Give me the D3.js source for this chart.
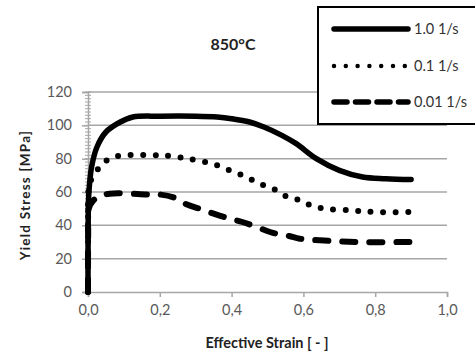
<!DOCTYPE html>
<html><head><meta charset="utf-8">
<script src="https://cdn.jsdelivr.net/npm/d3@7"></script>
<style>body{margin:0;background:#fff}svg{display:block;font-family:Lato,"Open Sans",sans-serif}</style>
</head><body><svg id="c" width="475" height="357"></svg>
<script>
const title = "850°C";
const xLabel = "Effective Strain [ - ]";
const yLabel = "Yield Stress [MPa]";
const xTicks = [0, 0.2, 0.4, 0.6, 0.8, 1.0];
const yTicks = [0, 20, 40, 60, 80, 100, 120];
const seriesNames = ["1.0 1/s", "0.1 1/s", "0.01 1/s"];
const strain10 = [0, 0.0005, 0.002, 0.01, 0.025, 0.05, 0.09, 0.125, 0.2, 0.3, 0.36, 0.40, 0.45, 0.49, 0.54, 0.58, 0.636, 0.70, 0.765, 0.83, 0.90];
const stress10 = [0, 40, 58, 75, 87, 96, 102, 105, 105.5, 105.5, 105, 104, 102, 99, 94, 89, 80, 73, 69, 68, 67.5];
const strain01 = [0, 0.0005, 0.002, 0.01, 0.033, 0.06, 0.1, 0.18, 0.21, 0.25, 0.28, 0.325, 0.36, 0.395, 0.43, 0.46, 0.49, 0.525, 0.556, 0.59, 0.62, 0.66, 0.73, 0.80, 0.90];
const stress01 = [0, 40, 62, 68, 75, 80, 82, 82, 82, 81, 80, 78, 76, 73, 70, 67, 64, 61, 57, 55, 52, 50, 49, 48, 48];
const strain001 = [0, 0.0005, 0.002, 0.015, 0.03, 0.06, 0.17, 0.2, 0.24, 0.27, 0.31, 0.35, 0.395, 0.43, 0.47, 0.515, 0.56, 0.59, 0.645, 0.75, 0.90];
const stress001 = [0, 35, 50, 55, 57, 59, 58.5, 58.5, 56.6, 53, 50, 47, 44, 42, 39, 35.5, 33.6, 32, 31, 30, 30];

const series = [
  {name: seriesNames[0], xs: strain10, ys: stress10, dash: null, w: 5.5},
  {name: seriesNames[1], xs: strain01, ys: stress01, dash: "0 12.5", w: 6},
  {name: seriesNames[2], xs: strain001, ys: stress001, dash: "13 14", w: 6}
];

const svg = d3.select("#c");
const x = d3.scaleLinear().domain([0, 1]).range([88, 447]);
const y = d3.scaleLinear().domain([0, 120]).range([292, 92]);
const gray = "#a6a6a6", txt = "#595959";

// gridlines
svg.append("g").selectAll("line").data(yTicks.filter(d => d > 0)).join("line")
  .attr("x1", x(0)).attr("x2", x(1)).attr("y1", d => y(d)).attr("y2", d => y(d))
  .attr("stroke", gray).attr("stroke-width", 1.5);

// x axis
const xa = svg.append("g").attr("transform", `translate(0,${y(0)})`)
  .call(d3.axisBottom(x).tickValues(xTicks).tickSize(5).tickPadding(8)
    .tickFormat(d => d3.format(".1f")(d).replace(".", ",")));
xa.select(".domain").attr("stroke", gray).attr("stroke-width", 1.5);
xa.selectAll(".tick line").attr("stroke", gray).attr("stroke-width", 1.5);
xa.selectAll("text").attr("fill", txt).attr("font-size", 14.5).attr("font-family", "Lato,sans-serif");

// y axis minor ticks
const minor = d3.range(0, 121, 2);
svg.append("g").selectAll("line").data(minor).join("line")
  .attr("x1", x(0) - 3).attr("x2", x(0) + 3).attr("y1", d => y(d)).attr("y2", d => y(d))
  .attr("stroke", gray).attr("stroke-width", 1);
const ya = svg.append("g").attr("transform", `translate(${x(0)},0)`)
  .call(d3.axisLeft(y).tickValues(yTicks).tickSize(6).tickPadding(10));
ya.select(".domain").attr("stroke", gray).attr("stroke-width", 1.5);
ya.selectAll(".tick line").attr("stroke", gray).attr("stroke-width", 1.5);
ya.selectAll("text").attr("fill", txt).attr("font-size", 14.5).attr("font-family", "Lato,sans-serif");

// curves
const line = d3.line().curve(d3.curveCatmullRom.alpha(0.5));
series.forEach(s => {
  const pts = s.xs.map((v, i) => [x(v), y(s.ys[i])]);
  const p = svg.append("path").attr("d", line(pts)).attr("fill", "none")
    .attr("stroke", "#000").attr("stroke-width", s.w)
    .attr("stroke-linecap", "round").attr("stroke-linejoin", "round");
  if (s.dash) p.attr("stroke-dasharray", s.dash);
});

// title
svg.append("text").attr("x", 233).attr("y", 50).attr("text-anchor", "middle")
  .attr("font-size", 16).attr("font-weight", "bold").attr("fill", "#222").text(title);

// axis labels
svg.append("text").attr("x", 267).attr("y", 348).attr("text-anchor", "middle")
  .attr("font-size", 14.5).attr("font-weight", "bold").attr("fill", "#222").text(xLabel);
svg.append("text").attr("transform", "translate(30,195) rotate(-90)").attr("text-anchor", "middle")
  .attr("font-size", 13.5).attr("letter-spacing", 1.2).attr("font-weight", "bold").attr("fill", "#222").text(yLabel);

// legend
const lg = svg.append("g");
lg.append("rect").attr("x", 318).attr("y", 7).attr("width", 170).attr("height", 117)
  .attr("fill", "#fff").attr("stroke", "#000").attr("stroke-width", 2);
const rowY = [29, 66, 102];
series.forEach((s, i) => {
  const l = lg.append("line").attr("x1", 334).attr("x2", 408).attr("y1", rowY[i]).attr("y2", rowY[i])
    .attr("stroke", "#000").attr("stroke-width", i === 1 ? 4.5 : 5.5).attr("stroke-linecap", "round");
  if (s.dash) l.attr("stroke-dasharray", i === 1 ? "0 11.8" : "13 8.5");
  lg.append("text").attr("x", 414).attr("y", rowY[i] + 5).attr("font-size", 14.5)
    .attr("fill", "#333").text(s.name);
});
</script></body></html>
